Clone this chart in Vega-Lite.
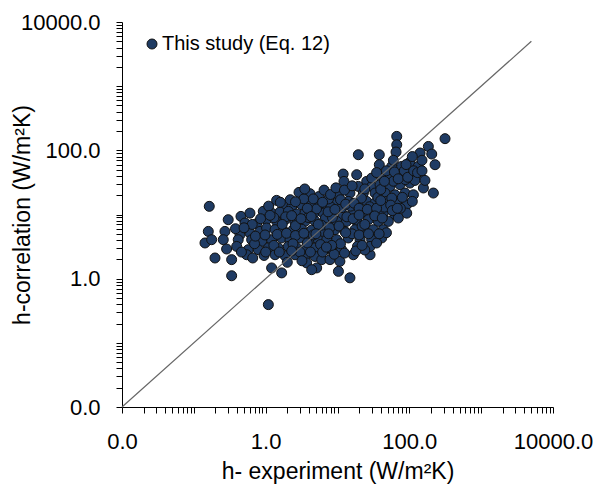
{
  "$schema": "https://vega.github.io/schema/vega-lite/v6.json",
  "width": 431,
  "height": 385,
  "autosize": {"type": "none"},
  "padding": {"left": 122, "top": 22, "right": 49, "bottom": 82},
  "background": "white",
  "config": {
    "view": {"stroke": null},
    "font": "Liberation Sans",
    "axis": {
      "grid": false,
      "domainColor": "#000",
      "domainWidth": 1,
      "tickColor": "#000",
      "tickWidth": 1,
      "tickSize": 6,
      "labelColor": "#000",
      "labelFontSize": 22,
      "labelFont": "Liberation Sans",
      "titleFont": "Liberation Sans",
      "titleFontSize": 23,
      "titleFontWeight": "normal",
      "titleColor": "#000",
      "labelOverlap": false,
      "labelFlush": false,
      "format": ".1f",
      "values": [0.01,0.02,0.03,0.04,0.05,0.06,0.07,0.08,0.09,0.1,0.2,0.3,0.4,0.5,0.6,0.7,0.8,0.9,1,2,3,4,5,6,7,8,9,10,20,30,40,50,60,70,80,90,100,200,300,400,500,600,700,800,900,1000,2000,3000,4000,5000,6000,7000,8000,9000,10000],
      "labelExpr": "(datum.value == 0.01 || datum.value == 1 || datum.value == 100 || datum.value == 10000) ? datum.label : ''"
    }
  },
  "datasets": {
    "pts": [
      {"x":0.164,"y":13.4},{"x":2.91,"y":22.1},{"x":4.14,"y":21.1},{"x":1.42,"y":16.6},{"x":1.82,"y":13.7},{"x":2.30,"y":13.1},{"x":3.17,"y":14.2},{"x":4.37,"y":14.7},{"x":5.70,"y":13.7},
      {"x":0.301,"y":8.30},{"x":0.453,"y":9.34},{"x":0.604,"y":10.5},{"x":0.926,"y":11.2},{"x":1.21,"y":10.5},{"x":1.58,"y":10.9},{"x":2.07,"y":11.2},{"x":2.70,"y":10.2},{"x":3.53,"y":10.6},{"x":4.86,"y":10.8},
      {"x":0.515,"y":7.37},{"x":0.750,"y":7.2},{"x":1.03,"y":8.30},{"x":1.42,"y":7.81},{"x":1.86,"y":8.30},{"x":2.56,"y":7.6},{"x":3.53,"y":7.81},{"x":4.86,"y":7.9},
      {"x":0.159,"y":5.45},{"x":0.271,"y":5.45},{"x":0.439,"y":4.84},{"x":0.604,"y":5.15},{"x":0.833,"y":5.45},{"x":1.03,"y":6.16},{"x":1.35,"y":5.80},{"x":1.76,"y":5.6},{"x":2.42,"y":5.80},{"x":3.17,"y":5.9},{"x":4.37,"y":5.70},{"x":5.70,"y":5.80},
      {"x":0.143,"y":3.60},{"x":0.177,"y":4.05},{"x":0.257,"y":4.05},{"x":0.415,"y":4.05},{"x":0.638,"y":4.05},{"x":0.880,"y":3.81},{"x":1.21,"y":4.05},{"x":1.67,"y":4.31},{"x":2.18,"y":4.0},{"x":3.00,"y":4.31},{"x":4.14,"y":4.1},{"x":5.40,"y":4.05},
      {"x":0.286,"y":2.90},{"x":0.395,"y":3.18},{"x":0.573,"y":2.83},{"x":0.789,"y":2.83},{"x":1.09,"y":3.01},{"x":1.50,"y":3.01},{"x":2.07,"y":3.18},{"x":2.70,"y":3.01},{"x":3.53,"y":2.95},{"x":4.86,"y":3.01},
      {"x":0.197,"y":2.10},{"x":0.336,"y":1.98},{"x":0.544,"y":2.36},{"x":1.35,"y":2.36},{"x":1.86,"y":2.28},{"x":2.56,"y":2.36},{"x":3.53,"y":2.22},{"x":4.86,"y":2.22},
      {"x":3.72,"y":1.76},{"x":5.13,"y":1.47},{"x":1.21,"y":1.47},{"x":1.67,"y":1.23},{"x":0.336,"y":1.11},{"x":1.09,"y":0.394},{"x":4.37,"y":1.38},{"x":6.03,"y":1.98},
      {"x":66.8,"y":165},{"x":66.8,"y":122},{"x":65.3,"y":94.1},{"x":19.5,"y":85.4},{"x":38.2,"y":85.4},{"x":38.2,"y":59.7},{"x":314,"y":152},{"x":184,"y":115},{"x":141,"y":90.8},{"x":205,"y":87.5},{"x":228,"y":59.7},
      {"x":56.9,"y":56.1},{"x":78.3,"y":56.1},{"x":102,"y":65.8},{"x":133,"y":56.1},{"x":12.0,"y":42.7},{"x":18.5,"y":41.7},{"x":12.3,"y":32.8},{"x":25.5,"y":32.8},{"x":41.3,"y":37.0},{"x":53.8,"y":39.2},{"x":74.2,"y":41.7},{"x":102,"y":42.7},{"x":141,"y":39.2},
      {"x":19.5,"y":27.4},{"x":29.9,"y":27.4},{"x":39.1,"y":29.1},{"x":53.8,"y":27.4},{"x":74.2,"y":29.1},{"x":102,"y":30.9},{"x":157,"y":25.9},{"x":216,"y":21.6},
      {"x":10.3,"y":20.3},{"x":14.9,"y":21.6},{"x":22.9,"y":21.6},{"x":33.3,"y":21.6},{"x":45.9,"y":21.6},{"x":63.2,"y":20.3},{"x":87.1,"y":21.6},{"x":114,"y":20.3},
      {"x":7.08,"y":14.2},{"x":9.75,"y":15.1},{"x":14.1,"y":16.0},{"x":19.5,"y":15.1},{"x":25.5,"y":16.0},{"x":33.3,"y":15.1},{"x":48.4,"y":16.0},{"x":66.8,"y":15.1},{"x":92.0,"y":14.2},
      {"x":6.34,"y":10.5},{"x":8.74,"y":11.2},{"x":12.0,"y":9.93},{"x":16.6,"y":11.2},{"x":22.9,"y":10.9},{"x":31.5,"y":11.2},{"x":43.4,"y":10.5},{"x":63.2,"y":9.93},{"x":92.0,"y":10.5},
      {"x":7.08,"y":7.37},{"x":9.75,"y":7.81},{"x":13.4,"y":7.81},{"x":18.5,"y":7.81},{"x":26.9,"y":8.30},{"x":37.0,"y":7.81},{"x":51.0,"y":7.81},{"x":70.3,"y":8.82},
      {"x":6.34,"y":5.45},{"x":9.23,"y":5.80},{"x":12.7,"y":5.45},{"x":17.5,"y":5.80},{"x":24.2,"y":5.45},{"x":31.5,"y":5.80},{"x":43.4,"y":5.80},
      {"x":7.08,"y":4.05},{"x":9.75,"y":4.05},{"x":14.1,"y":4.31},{"x":20.6,"y":4.05},{"x":29.9,"y":4.05},{"x":41.3,"y":4.31},
      {"x":6.70,"y":2.83},{"x":8.74,"y":2.66},{"x":11.4,"y":2.83},{"x":16.6,"y":2.36},{"x":28.4,"y":2.36},{"x":7.86,"y":1.98},{"x":10.8,"y":1.86},{"x":14.9,"y":1.03},{"x":10.3,"y":1.30},{"x":28.4,"y":3.18},
      {"x":1.9,"y":9.2},{"x":2.6,"y":6.7},{"x":3.9,"y":9.0},{"x":5.1,"y":12.2},{"x":6.8,"y":8.8},{"x":8.1,"y":13.0},{"x":11.5,"y":12.8},{"x":15.2,"y":13.5},{"x":21.5,"y":18.0},{"x":28.0,"y":13.2},
      {"x":36.5,"y":18.5},{"x":45.0,"y":13.0},{"x":57.0,"y":18.0},{"x":80.0,"y":18.5},{"x":40.0,"y":24.5},{"x":60.0,"y":33.0},{"x":88.0,"y":35.0},{"x":120.0,"y":34.0},{"x":30.0,"y":37.0},{"x":16.0,"y":5.0},
      {"x":22.0,"y":6.6},{"x":48.0,"y":5.2},{"x":11.0,"y":3.5},{"x":19.0,"y":3.2},{"x":35.0,"y":3.6},{"x":6.0,"y":6.8},{"x":8.5,"y":9.0},{"x":0.95,"y":2.3},{"x":0.70,"y":3.5},{"x":1.30,"y":8.9},
      {"x":0.38,"y":6.0},{"x":0.65,"y":7.0},{"x":2.2,"y":17.0},{"x":3.4,"y":17.5},{"x":7.5,"y":17.5},{"x":4.6,"y":4.8},{"x":3.0,"y":2.6},{"x":2.0,"y":1.8},{"x":9.0,"y":2.4},{"x":24.0,"y":2.8},
      {"x":3.5,"y":25},{"x":5.5,"y":19},{"x":6.5,"y":24},{"x":8.0,"y":20.5},{"x":9.5,"y":26},{"x":12.5,"y":24},{"x":16,"y":28},{"x":24,"y":25},{"x":4.6,"y":17.5},
      {"x":1.1,"y":13.5},{"x":1.6,"y":15.5},{"x":2.6,"y":15.8},{"x":3.8,"y":12.5},{"x":6.2,"y":15.5},{"x":7.4,"y":11.0},{"x":9.2,"y":12.0},{"x":11,"y":17},{"x":13,"y":14.5},{"x":17,"y":15},
      {"x":20,"y":12.5},{"x":26,"y":12},{"x":35,"y":12.5},{"x":40,"y":16.5},{"x":55,"y":14},{"x":75,"y":12.5},{"x":110,"y":16},
      {"x":0.85,"y":8.6},{"x":1.15,"y":9.7},{"x":1.7,"y":7.0},{"x":2.3,"y":9.6},{"x":3.1,"y":8.6},{"x":4.3,"y":9.3},{"x":5.4,"y":7.0},{"x":7.8,"y":6.2},{"x":10.5,"y":6.6},{"x":13.5,"y":9.2},
      {"x":16.5,"y":8.6},{"x":20,"y":9.8},{"x":24,"y":7.0},{"x":33,"y":9.5},{"x":42,"y":8.8},{"x":58,"y":11.5},{"x":68,"y":12.5},
      {"x":0.5,"y":6.2},{"x":0.72,"y":4.6},{"x":0.98,"y":4.8},{"x":1.45,"y":4.9},{"x":1.95,"y":5.1},{"x":2.6,"y":4.7},{"x":3.4,"y":5.1},{"x":5.0,"y":5.0},{"x":7.5,"y":5.0},{"x":8.3,"y":3.3},
      {"x":13,"y":5.2},{"x":20,"y":4.8},{"x":27,"y":5.0},{"x":38,"y":5.0},{"x":5.8,"y":3.4},{"x":3.8,"y":3.6},{"x":2.4,"y":3.5},{"x":1.3,"y":3.3},
      {"x":0.46,"y":2.6},{"x":0.66,"y":2.1},{"x":1.0,"y":2.6},{"x":1.55,"y":2.6},{"x":2.3,"y":2.7},{"x":3.2,"y":1.9},{"x":4.2,"y":2.6},{"x":6.2,"y":2.6},{"x":7.0,"y":3.1},{"x":12.5,"y":2.5},
      {"x":18,"y":2.7},{"x":22,"y":3.3},
      {"x":35,"y":45},{"x":45,"y":33},{"x":48,"y":48},{"x":62,"y":46},{"x":70,"y":36},{"x":85,"y":48},{"x":95,"y":38},{"x":115,"y":48},{"x":130,"y":45},{"x":150,"y":48},
      {"x":165,"y":34},{"x":110,"y":80},{"x":90,"y":60},{"x":60,"y":70},{"x":150,"y":70}
    ],
    "diag": [{"x": 0.01, "y": 0.01}, {"x": 5000, "y": 5000}]
  },
  "layer": [
    {
      "data": {"name": "pts"},
      "mark": {"type": "point", "filled": true, "opacity": 1, "size": 100, "stroke": "#111111", "strokeWidth": 1},
      "encoding": {
        "x": {
          "field": "x", "type": "quantitative", "title": "h- experiment (W/m²K)",
          "scale": {"type": "log", "domain": [0.01, 10000], "nice": false},
          "axis": {"labelPadding": 18, "titlePadding": 8}
        },
        "y": {
          "field": "y", "type": "quantitative", "title": "h-correlation (W/m²K)",
          "scale": {"type": "log", "domain": [0.01, 10000], "nice": false},
          "axis": {"labelPadding": 16, "titleX": -88, "titleY": 192.5}
        },
        "color": {
          "datum": "This study (Eq. 12)", "type": "nominal",
          "scale": {"range": ["#1F3B63"]},
          "legend": {
            "orient": "none", "legendX": 20, "legendY": 12, "title": null, "padding": 0,
            "labelFontSize": 20, "labelColor": "#000", "labelFont": "Liberation Sans", "labelOffset": 0, "labelLimit": 400,
            "symbolType": "circle", "symbolSize": 100, "symbolStrokeColor": "#111111", "symbolStrokeWidth": 1, "symbolOpacity": 1
          }
        }
      }
    },
    {
      "data": {"name": "diag"},
      "mark": {"type": "line", "color": "#666666", "strokeWidth": 1.2},
      "encoding": {
        "x": {"field": "x", "type": "quantitative", "title": "h- experiment (W/m²K)"},
        "y": {"field": "y", "type": "quantitative", "title": "h-correlation (W/m²K)"}
      }
    }
  ]
}
